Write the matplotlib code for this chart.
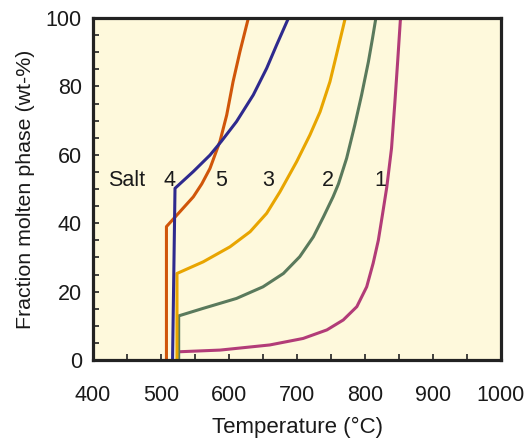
import matplotlib
matplotlib.use("Agg")
import matplotlib.pyplot as plt
from matplotlib.ticker import MultipleLocator

plt.rcParams['font.family'] = ['Liberation Sans', 'DejaVu Sans']

# Salt 1
t1 = [525.5, 525.5, 587, 660, 709, 744, 768, 788, 802.5, 812, 819.6, 826, 832,
      839, 844, 848, 852, 854]
f1 = [0, 2.4, 2.9, 4.4, 6.3, 8.8, 11.7, 15.6, 21.4, 28.3, 35, 42.9, 50.5,
      61.9, 75.5, 87.2, 99.4, 100]
# Salt 2
t2 = [526, 526, 562, 611, 650, 680, 704, 724, 739, 753, 761, 773, 785, 795,
      805, 811, 816]
f2 = [0, 12.9, 15.1, 18.0, 21.4, 25.3, 30.2, 36.0, 41.9, 47.7, 51.5, 59.0,
      68.7, 77.5, 87.2, 94.0, 100]
# Salt 3
t3 = [523.5, 523.5, 562, 601.5, 631, 655.4, 675, 699.5, 719, 734, 748.5, 758, 771]
f3 = [0, 25.3, 28.7, 33.1, 37.5, 42.9, 49.2, 58.0, 65.8, 72.6, 81.4, 89.2, 100]
# Salt 4
t4 = [517, 520.6, 547.5, 572, 589, 611, 635.7, 655.4, 670, 687.5]
f4 = [0, 50.2, 55.1, 59.9, 64.0, 69.7, 77.5, 85.3, 92.1, 100]
# Salt 5
t5 = [508, 508, 528, 547.5, 560, 572, 586.8, 596.6, 606, 616, 628.5]
f5 = [0, 39.0, 43.4, 47.7, 51.5, 56.0, 64.0, 71.6, 81.4, 90.1, 100]

salt_labels = ["Salt", "4", "5", "3", "2", "1"]
label_x = [449, 512, 588, 658, 746, 823]
label_y = 52.6

colors = {
    "1": "#b23c78",
    "2": "#5a7a5c",
    "3": "#e8a500",
    "4": "#2e2a8e",
    "5": "#d0560a",
}

fig = plt.figure(figsize=(5.28, 4.42), dpi=100)
ax = fig.add_axes([93/528, 1 - 360/442, (501 - 93)/528, (360 - 18)/442])
ax.set_facecolor("#fef9dc")

lw = 2.2
kw = dict(lw=lw, solid_joinstyle='round', solid_capstyle='butt')
ax.plot(t1, f1, color=colors["1"], **kw)
ax.plot(t2, f2, color=colors["2"], **kw)
ax.plot(t3, f3, color=colors["3"], **kw)
ax.plot(t5, f5, color=colors["5"], **kw)
ax.plot(t4, f4, color=colors["4"], **kw)

for lab, x in zip(salt_labels, label_x):
    ax.text(x, label_y, lab, fontsize=15.5, ha='center', va='center', color='#1a1a1a')

ax.set_xlim(400, 1000)
ax.set_ylim(0, 100)
ax.xaxis.set_major_locator(MultipleLocator(100))
ax.xaxis.set_minor_locator(MultipleLocator(50))
ax.yaxis.set_major_locator(MultipleLocator(20))
ax.yaxis.set_minor_locator(MultipleLocator(5))
ax.tick_params(which='both', direction='in', length=4, width=1.2, color='#222222',
               top=False, right=False, labelsize=15.5, labelcolor='#1a1a1a')
ax.tick_params(axis='x', which='major', pad=18)
ax.tick_params(axis='y', which='major', pad=8)
for s in ax.spines.values():
    s.set_linewidth(2.3)
    s.set_color('#222222')

ax.set_xlabel("Temperature (°C)", fontsize=16, color='#1a1a1a', labelpad=8)
ax.set_ylabel("Fraction molten phase (wt-%)", fontsize=15.4, color='#1a1a1a', labelpad=8)

fig.savefig("out.png", dpi=100)
